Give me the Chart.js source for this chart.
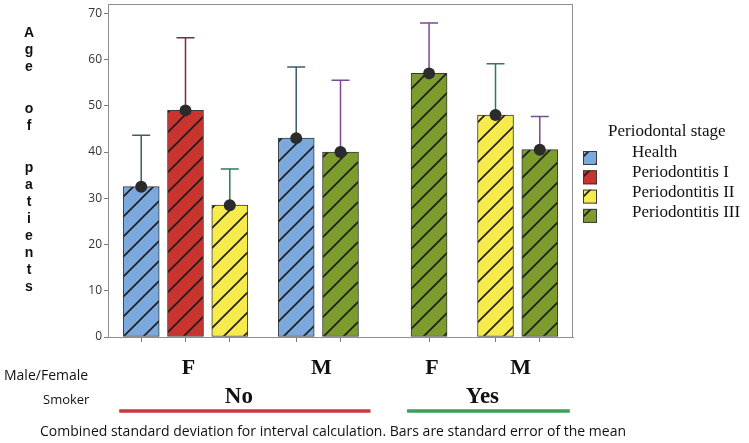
<!DOCTYPE html>
<html>
<head>
<meta charset="utf-8">
<script src="https://cdn.jsdelivr.net/npm/chart.js@4"></script>
<style>
  html, body { margin: 0; padding: 0; background: #fff; }
  #wrap { width: 749px; height: 443px; }
</style>
</head>
<body>
<div id="wrap"><canvas id="ageChart" width="749" height="443"></canvas></div>
<script>
// ---- data ----
const stages = ['Health', 'Periodontitis I', 'Periodontitis II', 'Periodontitis III'];
const smoker = ['No', 'No', 'No', 'No', 'No', 'Yes', 'Yes', 'Yes'];
const sex = ['F', 'F', 'F', 'M', 'M', 'F', 'M', 'M'];
const barStage = ['Health', 'Periodontitis I', 'Periodontitis II', 'Health', 'Periodontitis III', 'Periodontitis III', 'Periodontitis II', 'Periodontitis III'];
const meanAge = [32.5, 49, 28.5, 43, 40, 57, 48, 40.5];
const errTop = [43.6, 64.7, 36.3, 58.4, 55.5, 67.9, 59.1, 47.7];
const yTicks = [0, 10, 20, 30, 40, 50, 60, 70];
const yTitle = 'Age of patients';
const sexTitle = 'Male/Female';
const smokerTitle = 'Smoker';
const legendTitle = 'Periodontal stage';
const caption = 'Combined standard deviation for interval calculation. Bars are standard error of the mean';

// styles
const fills = ['#7ba9dd', '#c9342f', '#f7ea4c', '#7c9c2d'];
const errColors = ['#3f5b68', '#7a2b3c', '#2f7a56', '#7b4a8f'];
const smokerLine = { No: '#c6393d', Yes: '#38a155' };

const canvas = document.getElementById('ageChart');
const ctx = canvas.getContext('2d');

function hatch(fill) {
  const c = document.createElement('canvas');
  c.width = 20; c.height = 20;
  const g = c.getContext('2d');
  g.fillStyle = fill;
  g.fillRect(0, 0, 20, 20);
  g.strokeStyle = '#1c1c1c';
  g.lineWidth = 1.6;
  g.beginPath();
  g.moveTo(-2, 22); g.lineTo(22, -2);
  g.moveTo(-2, 2); g.lineTo(2, -2);
  g.moveTo(18, 22); g.lineTo(22, 18);
  g.stroke();
  return ctx.createPattern(c, 'repeat');
}

// category slots: adjacent bars, wider gap between sexes, widest between smoker groups
const slotOf = [];
let s = 1;
meanAge.forEach((v, i) => {
  if (i > 0) s += smoker[i] !== smoker[i - 1] ? 4 : (sex[i] !== sex[i - 1] ? 3 : 2);
  slotOf.push(s);
});
const nSlots = s + 2;
const labels = new Array(nSlots).fill('');
slotOf.forEach((k, i) => { labels[k] = sex[i]; });

const datasets = stages.map((st, si) => {
  const data = new Array(nSlots).fill(null);
  const err = new Array(nSlots).fill(null);
  barStage.forEach((b, i) => {
    if (b === st) { data[slotOf[i]] = meanAge[i]; err[slotOf[i]] = errTop[i]; }
  });
  return {
    label: st,
    data: data,
    errTop: err,
    backgroundColor: hatch(fills[si]),
    borderColor: '#3a3a3a',
    borderWidth: 1,
    borderSkipped: false,
    barThickness: 36,
    grouped: false
  };
});

const decor = {
  id: 'decor',
  afterDatasetsDraw(chart) {
    const c = chart.ctx, a = chart.chartArea, y = chart.scales.y;
    c.save();
    // frame
    c.strokeStyle = '#8e8e8e';
    c.lineWidth = 1;
    c.strokeRect(a.left + 0.5, a.top + 0.5, a.right - a.left - 1, a.bottom - a.top);
    // error bars and mean dots
    chart.data.datasets.forEach((ds, di) => {
      chart.getDatasetMeta(di).data.forEach((el, k) => {
        if (ds.data[k] == null) return;
        const yt = y.getPixelForValue(ds.errTop[k]);
        c.strokeStyle = errColors[di];
        c.lineWidth = 1.5;
        c.beginPath();
        c.moveTo(el.x, el.y); c.lineTo(el.x, yt);
        c.moveTo(el.x - 9, yt); c.lineTo(el.x + 9, yt);
        c.stroke();
        c.fillStyle = '#2b2b2b';
        c.beginPath();
        c.arc(el.x, el.y, 6, 0, Math.PI * 2);
        c.fill();
      });
    });
    c.restore();
  },
  afterDraw(chart) {
    const c = chart.ctx;
    const x = chart.scales.x;
    c.save();
    c.fillStyle = '#111';
    // vertical y title
    c.font = 'bold 14px "Liberation Sans", Arial, sans-serif';
    c.textAlign = 'center';
    c.textBaseline = 'middle';
    let ty = 33;
    for (const ch of yTitle) {
      if (ch === ' ') { ty += 25; continue; }
      c.fillText(ch, 29, ty);
      ty += 17;
    }
    // bar centres
    const px = slotOf.map(k => x.getPixelForValue(k));
    // sex labels per cluster
    c.font = 'bold 22px "Liberation Serif", "Times New Roman", serif';
    let i = 0;
    while (i < sex.length) {
      let j = i;
      while (j + 1 < sex.length && sex[j + 1] === sex[i] && smoker[j + 1] === smoker[i]) j++;
      c.fillText(sex[i], (px[i] + px[j]) / 2 + 3, 368);
      i = j + 1;
    }
    // smoker labels and underlines
    i = 0;
    while (i < smoker.length) {
      let j = i;
      while (j + 1 < smoker.length && smoker[j + 1] === smoker[i]) j++;
      const l = px[i] - 22, r = px[j] + 30;
      c.fillStyle = '#111';
      c.font = 'bold 23px "Liberation Serif", "Times New Roman", serif';
      c.fillText(smoker[i], (l + r) / 2 - 6, 397);
      c.strokeStyle = smokerLine[smoker[i]];
      c.lineWidth = 3.5;
      c.beginPath(); c.moveTo(l, 411); c.lineTo(r, 411); c.stroke();
      i = j + 1;
    }
    // row titles and caption
    c.fillStyle = '#111';
    c.textAlign = 'left';
    c.font = '14px "Open Sans", sans-serif';
    c.fillText(sexTitle, 4, 376);
    c.fillText(caption, 40, 432);
    c.font = '13px "Open Sans", sans-serif';
    c.fillText(smokerTitle, 43, 400);
    // legend
    c.font = '17px "Liberation Serif", "Times New Roman", serif';
    c.fillText(legendTitle, 608, 132);
    chart.data.datasets.forEach((ds, di) => {
      const by = 151 + di * 19.3;
      c.fillStyle = ds.backgroundColor;
      c.fillRect(583, by, 14, 14);
      c.strokeStyle = '#3a3a3a';
      c.lineWidth = 1;
      c.strokeRect(583.5, by + 0.5, 13, 13);
      c.fillStyle = '#111';
      c.fillText(ds.label, 632, 153 + di * 20);
    });
    c.restore();
  }
};

new Chart(canvas, {
  type: 'bar',
  data: { labels: labels, datasets: datasets },
  options: {
    responsive: false,
    animation: false,
    layout: { padding: { top: 4, right: 176, left: 0, bottom: 0 } },
    plugins: { legend: { display: false }, tooltip: { enabled: false } },
    scales: {
      x: {
        offset: true,
        grid: {
          offset: false,
          drawOnChartArea: false,
          tickLength: 5,
          color: c => (labels[c.index] ? '#7a7a7a' : 'rgba(0,0,0,0)')
        },
        border: { color: '#8e8e8e' },
        ticks: { display: false },
        afterFit: sc => { sc.height = 106; sc.paddingLeft = 0; sc.paddingRight = 0; }
      },
      y: {
        min: 0,
        max: 72,
        grid: { drawOnChartArea: false, tickLength: 4, color: '#7a7a7a' },
        border: { color: '#8e8e8e' },
        ticks: {
          stepSize: 10,
          padding: 2,
          color: '#333',
          font: { family: '"Open Sans", sans-serif', size: 12 }
        },
        afterBuildTicks: sc => { sc.ticks = yTicks.map(v => ({ value: v })); },
        afterFit: sc => { sc.width = 108; sc.paddingTop = 0; sc.paddingBottom = 0; }
      }
    }
  },
  plugins: [decor]
});
</script>
</body>
</html>
